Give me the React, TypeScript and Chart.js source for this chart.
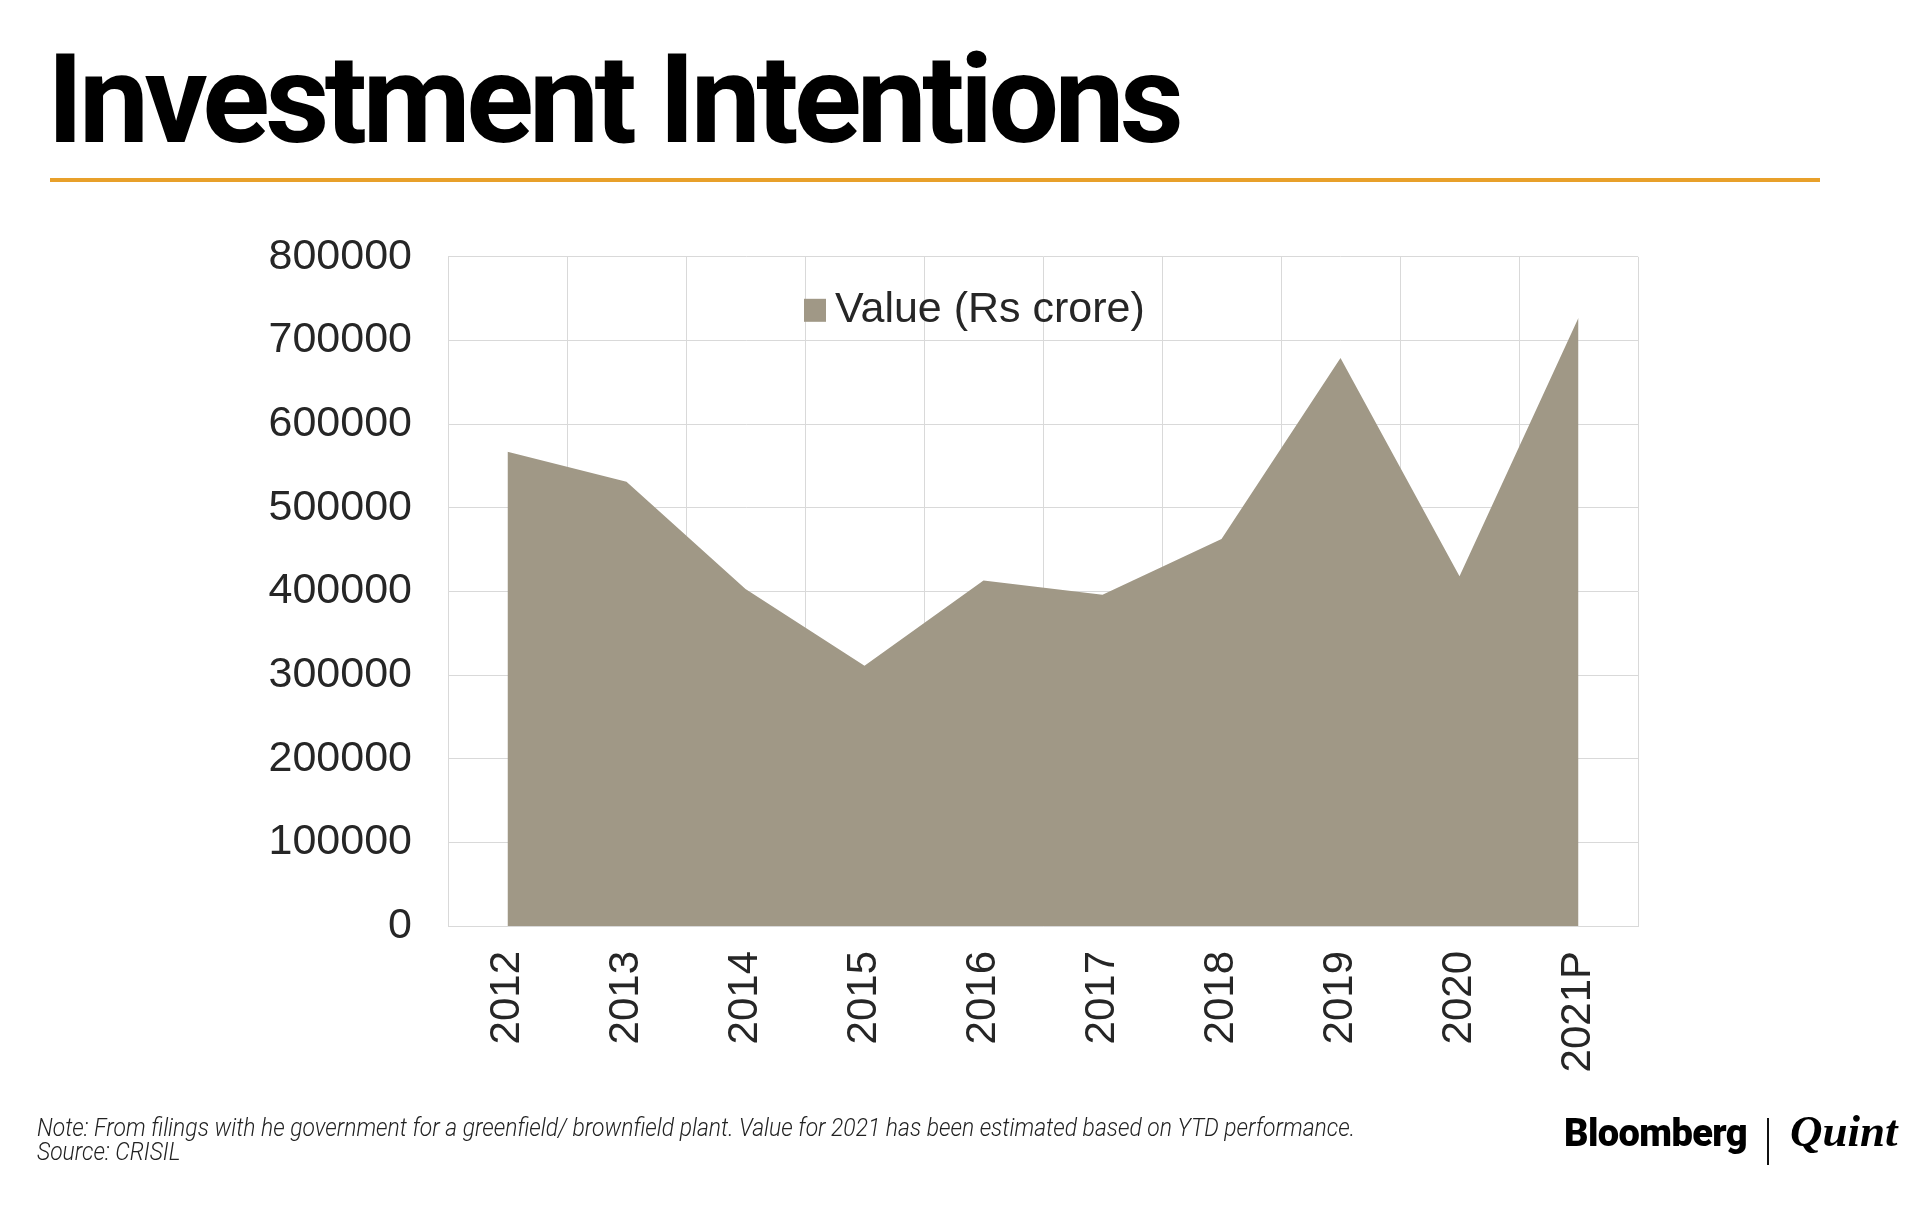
import React, { useEffect, useRef } from "react";
import { Chart, registerables } from "chart.js";

Chart.register(...registerables);

const categories = ["2012", "2013", "2014", "2015", "2016", "2017", "2018", "2019", "2020", "2021P"];
const values = [567000, 531000, 403000, 311000, 413000, 396000, 462500, 679000, 418000, 727000];
const seriesLabel = "Value (Rs crore)";
const yMin = 0;
const yMax = 800000;
const yStep = 100000;

const FILL = "#A09886";
const GRID = "#D9D9D9";
const TEXT = "#262626";
const AXIS_FONT = "'Liberation Sans', Arial, sans-serif";

const legendPlugin = {
  id: "innerLegend",
  afterDatasetsDraw(chart: any) {
    const { ctx, chartArea } = chart;
    const ds = chart.data.datasets[0];
    const bx = chartArea.left + 356;
    const by = chartArea.top + 42;
    ctx.save();
    ctx.fillStyle = ds.backgroundColor;
    ctx.fillRect(bx, by, 22, 23);
    ctx.fillStyle = TEXT;
    ctx.font = "43px " + AXIS_FONT;
    ctx.textBaseline = "alphabetic";
    ctx.textAlign = "left";
    ctx.fillText(ds.label, bx + 31, chartArea.top + 65);
    ctx.restore();
  },
};

export default function App() {
  const ref = useRef<HTMLCanvasElement | null>(null);

  useEffect(() => {
    if (!ref.current) return;
    const chart = new Chart(ref.current, {
      type: "line",
      data: {
        labels: categories,
        datasets: [
          {
            label: seriesLabel,
            data: values,
            fill: "origin",
            backgroundColor: FILL,
            borderColor: FILL,
            borderWidth: 0,
            pointRadius: 0,
            tension: 0,
          },
        ],
      },
      options: {
        responsive: false,
        maintainAspectRatio: false,
        animation: false,
        devicePixelRatio: 1,
        layout: { padding: { top: 57, right: 62, left: 0, bottom: 0 } },
        plugins: { legend: { display: false }, tooltip: { enabled: false } },
        scales: {
          x: {
            offset: true,
            grid: { offset: true, color: GRID, lineWidth: 1, drawTicks: false },
            border: { color: GRID, width: 1 },
            ticks: {
              minRotation: 90,
              maxRotation: 90,
              padding: 25,
              color: TEXT,
              font: { family: AXIS_FONT, size: 42 },
            },
            afterFit: (s: any) => {
              s.height = 194;
            },
          },
          y: {
            min: yMin,
            max: yMax,
            grid: { color: GRID, lineWidth: 1, drawTicks: false },
            border: { color: GRID, width: 1 },
            ticks: {
              stepSize: yStep,
              padding: 36,
              color: TEXT,
              font: { family: AXIS_FONT, size: 43 },
              callback: (v: any) => String(v),
            },
            afterFit: (s: any) => {
              s.width = 248;
            },
          },
        },
      },
      plugins: [legendPlugin],
    } as any);
    return () => chart.destroy();
  }, []);

  return (
    <div
      style={{
        position: "absolute",
        left: 0,
        top: 0,
        width: 1920,
        height: 1207,
        background: "#ffffff",
        overflow: "hidden",
      }}
    >
      <div
        style={{
          position: "absolute",
          left: 47,
          top: 37,
          fontFamily: "Roboto, sans-serif",
          fontWeight: 700,
          fontSize: 125,
          lineHeight: "125px",
          letterSpacing: "-4.6px",
          color: "#000",
          whiteSpace: "nowrap",
        }}
      >
        Investment Intentions
      </div>
      <div
        style={{
          position: "absolute",
          left: 50,
          top: 178,
          width: 1770,
          height: 4,
          background: "#E8A02A",
        }}
      />
      <canvas
        ref={ref}
        width={1500}
        height={925}
        style={{ position: "absolute", left: 200, top: 195, width: 1500, height: 925 }}
      />
      <div
        style={{
          position: "absolute",
          left: 37,
          top: 1115,
          fontFamily: "Roboto, sans-serif",
          fontWeight: 300,
          fontStyle: "italic",
          fontSize: 26,
          lineHeight: "24px",
          color: "#222",
          whiteSpace: "nowrap",
          transform: "scaleX(0.88)",
          transformOrigin: "left top",
        }}
      >
        <div>Note: From filings with he government for a greenfield/ brownfield plant. Value for 2021 has been estimated based on YTD performance.</div>
        <div>Source: CRISIL</div>
      </div>
      <div
        style={{
          position: "absolute",
          left: 1564,
          top: 1114,
          fontFamily: "Roboto, sans-serif",
          fontWeight: 900,
          fontSize: 38,
          lineHeight: "38px",
          letterSpacing: "-0.6px",
          color: "#000",
          whiteSpace: "nowrap",
        }}
      >
        Bloomberg
      </div>
      <div
        style={{
          position: "absolute",
          left: 1767,
          top: 1118,
          width: 2,
          height: 47,
          background: "#111",
        }}
      />
      <div
        style={{
          position: "absolute",
          left: 1790,
          top: 1109,
          fontFamily: "'Liberation Serif', 'Times New Roman', serif",
          fontStyle: "italic",
          fontWeight: 700,
          fontSize: 45,
          lineHeight: "45px",
          color: "#000",
          whiteSpace: "nowrap",
        }}
      >
        Quint
      </div>
    </div>
  );
}
